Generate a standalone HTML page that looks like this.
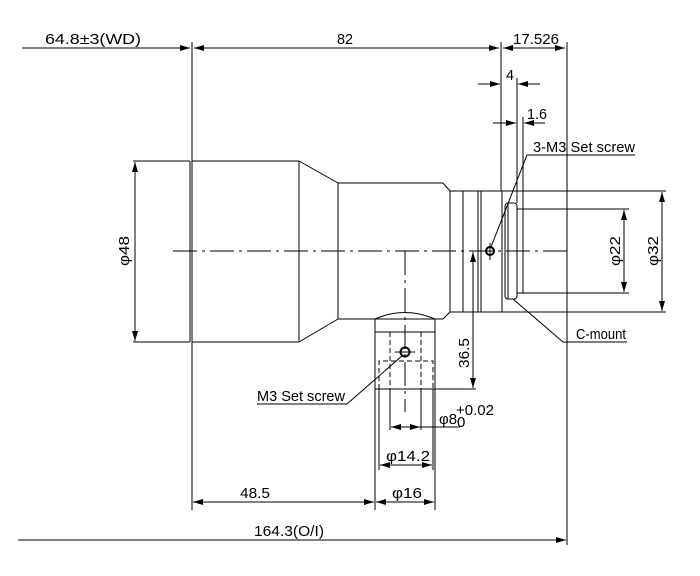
<!DOCTYPE html>
<html><head><meta charset="utf-8"><style>
html,body{margin:0;padding:0;background:#fff}
svg{display:block}
text{font-family:"Liberation Sans",sans-serif;font-size:15px;fill:#000}
</style></head><body>
<svg width="700" height="576" viewBox="0 0 700 576" xmlns="http://www.w3.org/2000/svg">
<defs>
<marker id="a" viewBox="0 0 10 6" refX="10" refY="3" markerWidth="10" markerHeight="6" orient="auto-start-reverse" markerUnits="userSpaceOnUse"><path d="M0,0L10,3L0,6z" fill="#000"/></marker>
</defs>
<g stroke="#000" stroke-width="1" fill="none">
<line x1="190" y1="161" x2="190" y2="342"/>
<rect x="192" y="161" width="107" height="181"/>
<path d="M299,161 L338,183 M299,342 L338,319"/>
<path d="M338,183 H443 L450,191 V312 L443,319 H338 Z"/>
<rect x="450" y="191" width="52" height="121"/>
<line x1="463" y1="191" x2="463" y2="312"/>
<line x1="478" y1="191" x2="478" y2="312"/>
<line x1="481" y1="191" x2="481" y2="312"/>
<rect x="505" y="203" width="12" height="96" rx="3"/>
<line x1="508" y1="203" x2="508" y2="299"/>
<rect x="517" y="209" width="6" height="84"/>
<path d="M375,389 V319 Q405,306 435,319 V389 Z"/>
<line x1="375" y1="332" x2="435" y2="332"/>
<g stroke-dasharray="5,3">
<path d="M390,332 V389 M421,332 V389"/>
<path d="M379,389 V361 H433 V389"/>
</g>
<circle cx="405" cy="352" r="4.5" stroke-width="2"/>
<line x1="395" y1="352" x2="415" y2="352"/>
<circle cx="490" cy="251" r="4" stroke-width="2"/>
<line x1="490" y1="243" x2="490" y2="260"/>
<line x1="173" y1="251" x2="567" y2="251" stroke-dasharray="24,5,3,5"/>
<line x1="405" y1="251" x2="405" y2="412" stroke-dasharray="24,5,3,5"/>
<line x1="192" y1="42" x2="192" y2="510"/>
<line x1="501" y1="42" x2="501" y2="191"/>
<line x1="567" y1="42" x2="567" y2="545"/>
<line x1="517" y1="78" x2="517" y2="203"/>
<line x1="523" y1="117" x2="523" y2="209"/>
<line x1="133" y1="161" x2="190" y2="161"/>
<line x1="133" y1="342" x2="190" y2="342"/>
<line x1="502" y1="191" x2="666" y2="191"/>
<line x1="502" y1="312" x2="666" y2="312"/>
<line x1="523" y1="209" x2="629" y2="209"/>
<line x1="523" y1="293" x2="629" y2="293"/>
<line x1="435" y1="389" x2="476" y2="389"/>
<line x1="375" y1="389" x2="375" y2="510"/>
<line x1="435" y1="389" x2="435" y2="510"/>
<line x1="379" y1="389" x2="379" y2="470"/>
<line x1="433" y1="389" x2="433" y2="470"/>
<line x1="390" y1="389" x2="390" y2="430"/>
<line x1="421" y1="389" x2="421" y2="430"/>
<line x1="22" y1="48" x2="190" y2="48" marker-end="url(#a)"/>
<line x1="194" y1="48" x2="499" y2="48" marker-start="url(#a)" marker-end="url(#a)"/>
<line x1="503" y1="48" x2="565" y2="48" marker-start="url(#a)" marker-end="url(#a)"/>
<line x1="478" y1="84" x2="500" y2="84" marker-end="url(#a)"/>
<line x1="540" y1="84" x2="518" y2="84" marker-end="url(#a)"/>
<line x1="493" y1="123" x2="516" y2="123" marker-end="url(#a)"/>
<line x1="545" y1="123" x2="524" y2="123" marker-end="url(#a)"/>
<line x1="135" y1="162" x2="135" y2="341" marker-start="url(#a)" marker-end="url(#a)"/>
<line x1="624" y1="210" x2="624" y2="292" marker-start="url(#a)" marker-end="url(#a)"/>
<line x1="662" y1="192" x2="662" y2="311" marker-start="url(#a)" marker-end="url(#a)"/>
<line x1="473" y1="252" x2="473" y2="388" marker-start="url(#a)" marker-end="url(#a)"/>
<line x1="391" y1="427" x2="420" y2="427" marker-start="url(#a)" marker-end="url(#a)"/>
<line x1="420" y1="427" x2="460" y2="427"/>
<line x1="380" y1="465" x2="432" y2="465" marker-start="url(#a)" marker-end="url(#a)"/>
<line x1="376" y1="502" x2="434" y2="502" marker-start="url(#a)" marker-end="url(#a)"/>
<line x1="193" y1="502" x2="374" y2="502" marker-start="url(#a)" marker-end="url(#a)"/>
<line x1="18" y1="540" x2="566" y2="540" marker-end="url(#a)"/>
<path d="M635,155 H527 L491,247" />
<path d="M627,342 H563 L513,299"/>
<path d="M257,404 H347 L403,355"/>
</g>
<g>
<text x="45" y="44" textLength="96" lengthAdjust="spacingAndGlyphs">64.8±3(WD)</text>
<text x="337" y="44" textLength="16" lengthAdjust="spacingAndGlyphs">82</text>
<text x="513" y="44" textLength="46" lengthAdjust="spacingAndGlyphs">17.526</text>
<text x="506" y="80" textLength="8" lengthAdjust="spacingAndGlyphs">4</text>
<text x="527" y="119" textLength="20" lengthAdjust="spacingAndGlyphs">1.6</text>
<text x="533" y="152" textLength="102" lengthAdjust="spacingAndGlyphs">3-M3 Set screw</text>
<text x="576" y="339" textLength="50" lengthAdjust="spacingAndGlyphs">C-mount</text>
<text x="257" y="401" textLength="88" lengthAdjust="spacingAndGlyphs">M3 Set screw</text>
<text x="439" y="424">φ8</text>
<text x="456" y="415" font-size="10">+0.02</text>
<text x="457" y="427" font-size="10">0</text>
<text x="386" y="461" textLength="44" lengthAdjust="spacingAndGlyphs">φ14.2</text>
<text x="392" y="498" textLength="30" lengthAdjust="spacingAndGlyphs">φ16</text>
<text x="240" y="498" textLength="30" lengthAdjust="spacingAndGlyphs">48.5</text>
<text x="254" y="536" textLength="70" lengthAdjust="spacingAndGlyphs">164.3(O/I)</text>
<text transform="translate(129,266) rotate(-90)" textLength="30" lengthAdjust="spacingAndGlyphs">φ48</text>
<text transform="translate(620,266) rotate(-90)" textLength="30" lengthAdjust="spacingAndGlyphs">φ22</text>
<text transform="translate(658,266) rotate(-90)" textLength="30" lengthAdjust="spacingAndGlyphs">φ32</text>
<text transform="translate(469,368) rotate(-90)" textLength="30" lengthAdjust="spacingAndGlyphs">36.5</text>
</g>
</svg>
</body></html>
